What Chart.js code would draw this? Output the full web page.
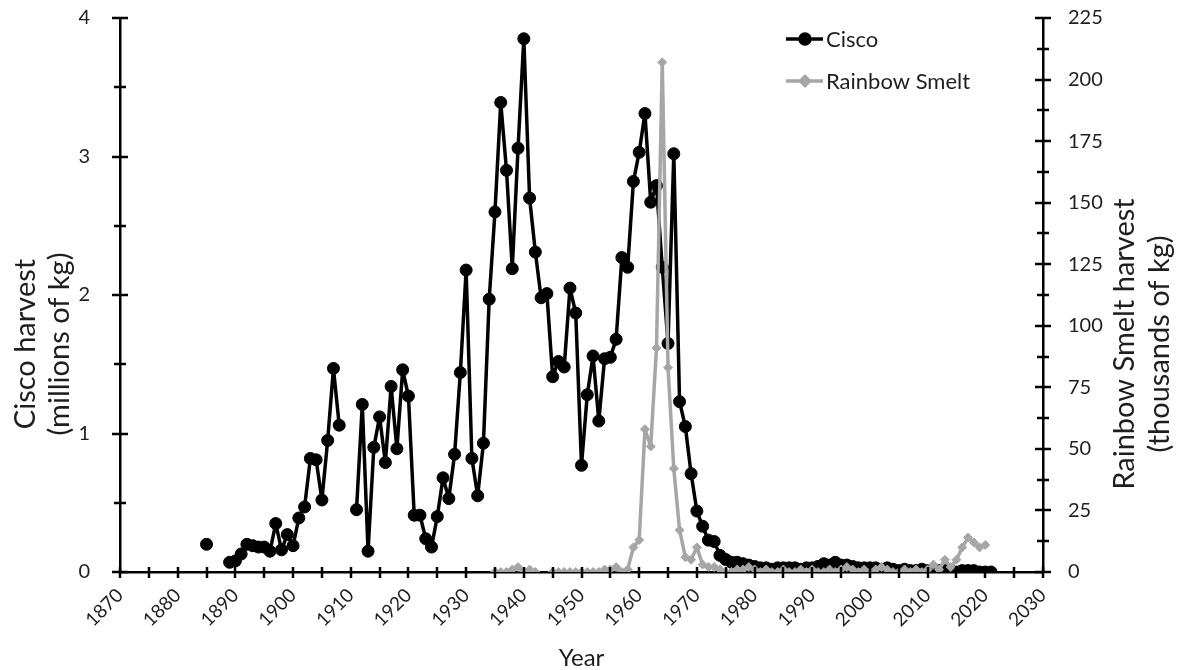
<!DOCTYPE html>
<html>
<head>
<meta charset="utf-8">
<script src="https://cdn.jsdelivr.net/npm/chart.js@4.4.0/dist/chart.umd.min.js"></script>
<style>
  html, body { margin: 0; padding: 0; background: #fff; }
  #wrap { width: 1182px; height: 670px; position: relative; }
</style>
</head>
<body>
<div id="wrap"><canvas id="harvest-chart" width="1182" height="670"></canvas></div>
<script>
// Cisco harvest, millions of kg (null = no record)
const ciscoYears = [];
for (let y = 1885; y <= 2021; y++) ciscoYears.push(y);
const ciscoValues = [
  0.20, null, null, null, 0.07, 0.08, 0.13, 0.20, 0.19, 0.18,   // 1885-1894
  0.18, 0.15, 0.35, 0.16, 0.27, 0.19, 0.39, 0.47, 0.82, 0.81,   // 1895-1904
  0.52, 0.95, 1.47, 1.06, null, null, 0.45, 1.21, 0.15, 0.90,   // 1905-1914
  1.12, 0.79, 1.34, 0.89, 1.46, 1.27, 0.41, 0.41, 0.24, 0.18,   // 1915-1924
  0.40, 0.68, 0.53, 0.85, 1.44, 2.18, 0.82, 0.55, 0.93, 1.97,   // 1925-1934
  2.60, 3.39, 2.90, 2.19, 3.06, 3.85, 2.70, 2.31, 1.98, 2.01,   // 1935-1944
  1.41, 1.52, 1.48, 2.05, 1.87, 0.77, 1.28, 1.56, 1.09, 1.54,   // 1945-1954
  1.55, 1.68, 2.27, 2.20, 2.82, 3.03, 3.31, 2.67, 2.79, 2.20,   // 1955-1964
  1.65, 3.02, 1.23, 1.05, 0.71, 0.44, 0.33, 0.23, 0.22, 0.12,   // 1965-1974
  0.09, 0.07, 0.07, 0.06, 0.05, 0.04, 0.03, 0.03, 0.02, 0.03,   // 1975-1984
  0.03, 0.03, 0.03, 0.02, 0.03, 0.03, 0.04, 0.06, 0.05, 0.07,   // 1985-1994
  0.05, 0.05, 0.04, 0.03, 0.03, 0.03, 0.03, 0.02, 0.03, 0.02,   // 1995-2004
  0.01, 0.02, 0.01, 0.01, 0.02, 0.01, 0.00, 0.01, 0.01, 0.01,   // 2005-2014
  0.00, 0.01, 0.01, 0.01, 0.00, 0.00, 0.00                      // 2015-2021
];

// Rainbow Smelt harvest, thousands of kg
const smeltYears = [];
for (let y = 1935; y <= 2020; y++) smeltYears.push(y);
const smeltValues = [
  0, 0, 0, 1, 2, 0, 1, 0, null, null,                 // 1935-1944
  0, 0, 0, 0, 0, 0, 0, 0, 0, 1,                       // 1945-1954
  1, 2, 0, 1, 10, 13, 58, 51, 91, 207,                // 1955-1964
  83, 42, 17, 6, 5, 10, 3, 2, 2, 1,                   // 1965-1974
  0, 0, 1, 1, 2, 1, 0, 1, 0, 0,                       // 1975-1984
  1, 0, 0, 1, 0, 1, 0, 0, 1, 0,                       // 1985-1994
  1, 2, 1, 0, 1, 0, 1, 2, 1, 0,                       // 1995-2004
  0, 1, 0, 1, 0, 1, 3, 1, 5, 2,                       // 2005-2014
  5, 10, 14, 12, 10, 11                               // 2015-2020
];

const seriesNames = ["Cisco", "Rainbow Smelt"];
const xTitle = "Year";
const leftTitle = ["Cisco harvest", "(millions of kg)"];
const rightTitle = ["Rainbow Smelt harvest", "(thousands of kg)"];

const FONT = "Lato, 'Open Sans', sans-serif";
const INK = "#1e1e1e";
const SMELT_GREY = "#a6a6a6";

const toPoints = (xs, ys) => xs.map((x, i) => ({ x: x, y: ys[i] }));

// fixed box sizes so the plot area lands where the original has it
const fitBox = (w, h) => s => {
  if (w) s.width = w;
  if (h) s.height = h;
  s.paddingTop = 0;
  s.paddingBottom = 0;
  s.paddingLeft = 0;
  s.paddingRight = 0;
};

// draws the crossing tick marks the way the original spreadsheet chart has them
const crossTicks = {
  id: "crossTicks",
  afterDraw(chart) {
    const ctx = chart.ctx;
    const { x, y, y1 } = chart.scales;
    ctx.save();
    ctx.strokeStyle = "#000";
    ctx.lineWidth = 2.5;
    ctx.beginPath();
    x.ticks.forEach(t => {
      const px = Math.round(x.getPixelForValue(t.value));
      ctx.moveTo(px, x.top - 5);
      ctx.lineTo(px, x.top + 6);
    });
    y.ticks.forEach(t => {
      const py = Math.round(y.getPixelForValue(t.value));
      const half = Number.isInteger(t.value) ? 8 : 6;
      ctx.moveTo(y.right - half, py);
      ctx.lineTo(y.right + half, py);
    });
    y1.ticks.forEach(t => {
      const py = Math.round(y1.getPixelForValue(t.value));
      const half = t.value % 25 === 0 ? 8 : 6;
      ctx.moveTo(y1.left - half, py);
      ctx.lineTo(y1.left + half, py);
    });
    ctx.stroke();
    ctx.restore();
  }
};

// axis titles, placed like the original
const axisTitles = {
  id: "axisTitles",
  afterDraw(chart) {
    const ctx = chart.ctx;
    const area = chart.chartArea;
    ctx.save();
    ctx.fillStyle = INK;
    ctx.textAlign = "center";
    ctx.textBaseline = "middle";
    ctx.font = "24px " + FONT;
    ctx.fillText(xTitle, (area.left + area.right) / 2, 658);

    ctx.font = "29px " + FONT;
    ctx.save();
    ctx.translate(26, 344);
    ctx.rotate(-Math.PI / 2);
    ctx.fillText(leftTitle[0], 0, 0);
    ctx.fillText(leftTitle[1], 0, 34);
    ctx.restore();

    ctx.save();
    ctx.translate(1125, 344);
    ctx.rotate(-Math.PI / 2);
    ctx.fillText(rightTitle[0], 0, 0);
    ctx.fillText(rightTitle[1], 0, 35);
    ctx.restore();
    ctx.restore();
  }
};

// legend in the upper right of the plot, line + marker + label
const insetLegend = {
  id: "insetLegend",
  afterDraw(chart) {
    const ctx = chart.ctx;
    const rows = [
      { label: seriesNames[0], color: "#000", style: "circle", y: 39 },
      { label: seriesNames[1], color: SMELT_GREY, style: "rectRot", y: 81 }
    ];
    ctx.save();
    rows.forEach(r => {
      ctx.strokeStyle = r.color;
      ctx.lineWidth = 3.5;
      ctx.beginPath();
      ctx.moveTo(786, r.y);
      ctx.lineTo(823, r.y);
      ctx.stroke();
      Chart.helpers.drawPoint(ctx, {
        pointStyle: r.style,
        radius: r.style === "circle" ? 5 : 4.5,
        borderWidth: 1
      }, 805, r.y);
      ctx.fillStyle = r.color;
      ctx.fill();
      ctx.fillStyle = INK;
      ctx.font = "22px " + FONT;
      ctx.textAlign = "left";
      ctx.textBaseline = "middle";
      ctx.fillText(r.label, 826, r.y + 1);
    });
    ctx.restore();
  }
};

new Chart(document.getElementById("harvest-chart"), {
  type: "line",
  data: {
    datasets: [
      {
        label: seriesNames[1],
        data: toPoints(smeltYears, smeltValues),
        yAxisID: "y1",
        borderColor: SMELT_GREY,
        backgroundColor: SMELT_GREY,
        borderWidth: 3.5,
        borderJoinStyle: "round",
        pointStyle: "rectRot",
        pointRadius: 4.5,
        pointBorderWidth: 1,
        spanGaps: false,
        tension: 0
      },
      {
        label: seriesNames[0],
        data: toPoints(ciscoYears, ciscoValues),
        yAxisID: "y",
        borderColor: "#000",
        backgroundColor: "#000",
        borderWidth: 3.5,
        borderJoinStyle: "round",
        pointStyle: "circle",
        pointRadius: 6,
        pointBorderWidth: 1,
        spanGaps: false,
        tension: 0
      }
    ]
  },
  options: {
    responsive: false,
    animation: false,
    events: [],
    layout: { padding: { top: 18, left: 0, right: 0, bottom: 0 } },
    plugins: {
      legend: { display: false },
      tooltip: { enabled: false }
    },
    scales: {
      x: {
        type: "linear",
        min: 1870,
        max: 2030,
        afterFit: fitBox(0, 98),
        grid: { display: false, drawTicks: false },
        border: { display: true, color: "#000", width: 2.5 },
        ticks: {
          stepSize: 5,
          autoSkip: false,
          minRotation: 45,
          maxRotation: 45,
          padding: 12,
          color: INK,
          font: { family: FONT, size: 19 },
          callback: v => (v % 10 === 0 ? String(v) : "")
        }
      },
      y: {
        position: "left",
        min: 0,
        max: 4,
        afterFit: fitBox(120, 0),
        grid: { display: false, drawTicks: false },
        border: { display: true, color: "#000", width: 2.5 },
        ticks: {
          stepSize: 0.5,
          padding: 30,
          color: INK,
          font: { family: FONT, size: 20 },
          callback: v => (Number.isInteger(v) ? String(v) : "")
        }
      },
      y1: {
        position: "right",
        min: 0,
        max: 225,
        afterFit: fitBox(139, 0),
        grid: { display: false, drawTicks: false },
        border: { display: true, color: "#000", width: 2.5 },
        ticks: {
          stepSize: 12.5,
          padding: 25,
          color: INK,
          font: { family: FONT, size: 20 },
          callback: v => (v % 25 === 0 ? String(v) : "")
        }
      }
    }
  },
  plugins: [crossTicks, axisTitles, insetLegend]
});
</script>
</body>
</html>
